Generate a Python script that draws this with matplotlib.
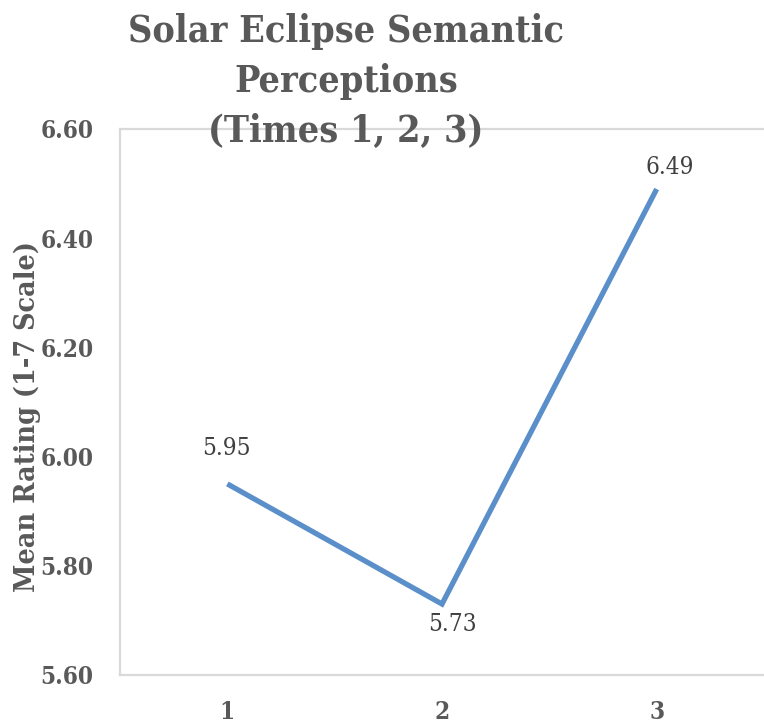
import matplotlib
matplotlib.use("Agg")
import matplotlib.pyplot as plt

# Mean semantic perception ratings across the three measurement times
times = [1, 2, 3]
time_labels = ["1", "2", "3"]
mean_ratings = [5.95, 5.73, 6.49]
y_ticks = [5.60, 5.80, 6.00, 6.20, 6.40, 6.60]
title_lines = ["Solar Eclipse Semantic", "Perceptions", "(Times 1, 2, 3)"]

label_gray = "#595959"
value_gray = "#404040"
line_blue = "#5B8FC9"
frame_gray = "#D9D9D9"
serif = "DejaVu Serif"

fig = plt.figure(figsize=(7.64, 7.25), dpi=100)
ax = fig.add_axes([120 / 764, 50 / 725, 644 / 764, 546 / 725])

ax.plot(times, mean_ratings, color=line_blue, linewidth=3.8,
        solid_capstyle="butt", solid_joinstyle="miter", zorder=3)

ax.set_xlim(0.5, 3.5)
ax.set_ylim(5.60, 6.60)
ax.set_xticks(times)
ax.set_xticklabels(time_labels)
ax.set_yticks(y_ticks)
ax.set_yticklabels([f"{v:.2f}" for v in y_ticks])

for side in ("left", "top", "bottom"):
    ax.spines[side].set_color(frame_gray)
    ax.spines[side].set_linewidth(1.6)
ax.spines["right"].set_visible(False)

ax.tick_params(axis="both", length=0, labelcolor=label_gray)
ax.tick_params(axis="y", pad=19)
ax.tick_params(axis="x", pad=18)
for lbl in ax.get_xticklabels() + ax.get_yticklabels():
    lbl.set_fontfamily(serif)
    lbl.set_fontstretch("condensed")
    lbl.set_fontweight("bold")
    lbl.set_fontsize(17.5)

# Value labels: above for points 1 and 3, below for the dip at 2
offsets = {0: (-1, 25.5), 1: (7.5, -14.5), 2: (9.5, 15.5)}
for i, (x, y) in enumerate(zip(times, mean_ratings)):
    dx, dy = offsets[i]
    ax.annotate(f"{y:.2f}", (x, y), xytext=(dx, dy), textcoords="offset points",
                ha="center", va="center", fontsize=17.5, color=value_gray,
                fontfamily=serif, fontstretch="condensed", zorder=4)

fig.text(27 / 764, 1 - 417 / 725, "Mean Rating (1-7 Scale)", rotation=90,
         ha="center", va="center", fontsize=20.5, fontweight="bold",
         color=label_gray, fontfamily=serif, fontstretch="condensed")

# Three-line title, one baseline every 50 px
for k, line in enumerate(title_lines):
    fig.text(346 / 764, 1 - (42 + 50 * k) / 725, line,
             ha="center", va="baseline", fontsize=27, fontweight="bold",
             color=label_gray, fontfamily=serif, fontstretch="condensed",
             zorder=5)

fig.savefig("out.png", dpi=100)
